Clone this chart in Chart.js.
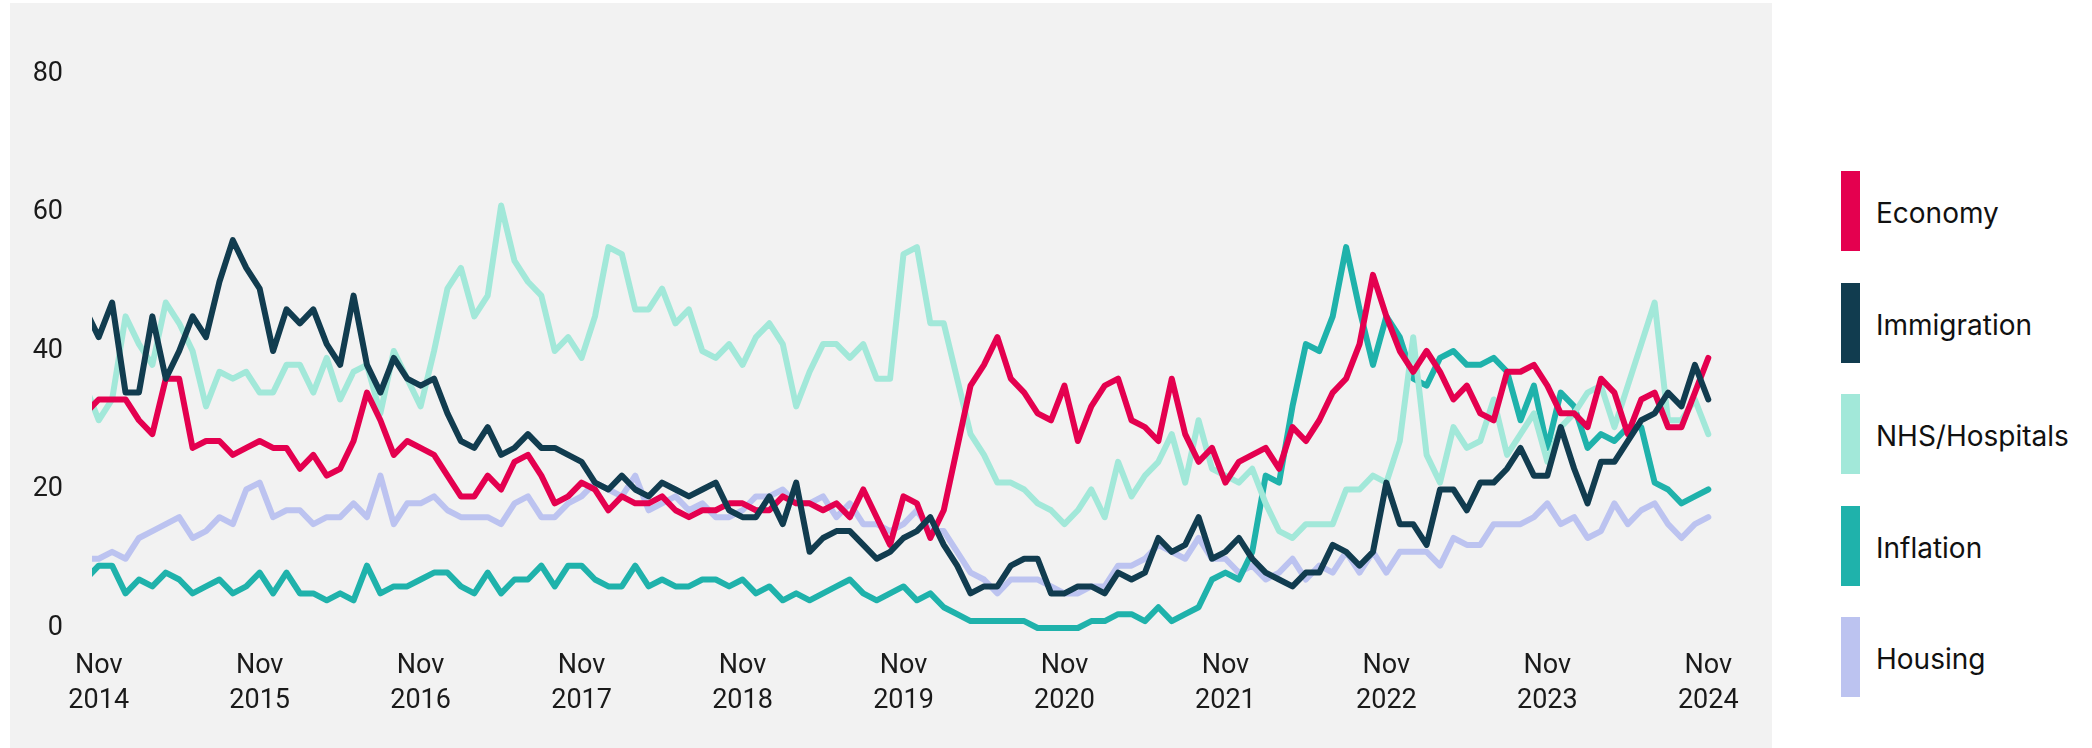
<!DOCTYPE html>
<html>
<head>
<meta charset="utf-8">
<title>Most important issues</title>
<script src="https://cdn.jsdelivr.net/npm/chart.js@4.4.1/dist/chart.umd.min.js"></script>
<style>
    html, body { margin: 0; padding: 0; background: #ffffff; }
    body { width: 2092px; height: 748px; position: relative; overflow: hidden; }
    #plot { position: absolute; left: 10px; top: 3px; width: 1762px; height: 745px; background: #f2f2f2; }
    #legend { position: absolute; left: 1841px; top: 171px; }
    .legend-item { display: flex; align-items: center; height: 80px; margin-bottom: 31.5px; }
    .legend-swatch { width: 19px; height: 80px; margin-right: 16px; }
    .legend-label { font-family: Inter, "Open Sans", sans-serif; font-size: 28px; color: #111111; position: relative; top: 2px; }
</style>
</head>
<body>
<div id="plot"><canvas id="issuesChart"></canvas></div>
<div id="legend"></div>
<script>
// --- Datos (mensual, Oct 2014 - Nov 2024) ---
const seriesNames = ['Economy', 'Immigration', 'NHS/Hospitals', 'Inflation', 'Housing'];
const seriesColors = ['#e4004f', '#113c4f', '#a2e8d9', '#1fb2ab', '#bcc3f0'];
const drawOrder = [1, 0, 2, 3, 4]; // Immigration on top

const economy = [31,
    33, 33, 33, 30, 28, 36, 36, 26, 27, 27, 25, 26,
    27, 26, 26, 23, 25, 22, 23, 27, 34, 30, 25, 27,
    26, 25, 22, 19, 19, 22, 20, 24, 25, 22, 18, 19,
    21, 20, 17, 19, 18, 18, 19, 17, 16, 17, 17, 18,
    18, 17, 17, 19, 18, 18, 17, 18, 16, 20, 16, 12,
    19, 18, 13, 17, 26, 35, 38, 42, 36, 34, 31, 30,
    35, 27, 32, 35, 36, 30, 29, 27, 36, 28, 24, 26,
    21, 24, 25, 26, 23, 29, 27, 30, 34, 36, 41, 51,
    45, 40, 37, 40, 37, 33, 35, 31, 30, 37, 37, 38,
    35, 31, 31, 29, 36, 34, 28, 33, 34, 29, 29, 34,
    39];
const immigration = [46,
    42, 47, 34, 34, 45, 36, 40, 45, 42, 50, 56, 52,
    49, 40, 46, 44, 46, 41, 38, 48, 38, 34, 39, 36,
    35, 36, 31, 27, 26, 29, 25, 26, 28, 26, 26, 25,
    24, 21, 20, 22, 20, 19, 21, 20, 19, 20, 21, 17,
    16, 16, 19, 15, 21, 11, 13, 14, 14, 12, 10, 11,
    13, 14, 16, 12, 9, 5, 6, 6, 9, 10, 10, 5,
    5, 6, 6, 5, 8, 7, 8, 13, 11, 12, 16, 10,
    11, 13, 10, 8, 7, 6, 8, 8, 12, 11, 9, 11,
    21, 15, 15, 12, 20, 20, 17, 21, 21, 23, 26, 22,
    22, 29, 23, 18, 24, 24, 27, 30, 31, 34, 32, 38,
    33];
const nhs = [35,
    30, 33, 45, 41, 38, 47, 44, 40, 32, 37, 36, 37,
    34, 34, 38, 38, 34, 39, 33, 37, 38, 31, 40, 36,
    32, 40, 49, 52, 45, 48, 61, 53, 50, 48, 40, 42,
    39, 45, 55, 54, 46, 46, 49, 44, 46, 40, 39, 41,
    38, 42, 44, 41, 32, 37, 41, 41, 39, 41, 36, 36,
    54, 55, 44, 44, 36, 28, 25, 21, 21, 20, 18, 17,
    15, 17, 20, 16, 24, 19, 22, 24, 28, 21, 30, 23,
    22, 21, 23, 18, 14, 13, 15, 15, 15, 20, 20, 22,
    21, 27, 42, 25, 21, 29, 26, 27, 33, 25, 28, 31,
    24, 29, 31, 34, 35, 29, 35, 41, 47, 30, 30, 33,
    28];
const inflation = [7,
    9, 9, 5, 7, 6, 8, 7, 5, 6, 7, 5, 6,
    8, 5, 8, 5, 5, 4, 5, 4, 9, 5, 6, 6,
    7, 8, 8, 6, 5, 8, 5, 7, 7, 9, 6, 9,
    9, 7, 6, 6, 9, 6, 7, 6, 6, 7, 7, 6,
    7, 5, 6, 4, 5, 4, 5, 6, 7, 5, 4, 5,
    6, 4, 5, 3, 2, 1, 1, 1, 1, 1, 0, 0,
    0, 0, 1, 1, 2, 2, 1, 3, 1, 2, 3, 7,
    8, 7, 11, 22, 21, 32, 41, 40, 45, 55, 46, 38,
    45, 42, 36, 35, 39, 40, 38, 38, 39, 37, 30, 35,
    26, 34, 32, 26, 28, 27, 29, 29, 21, 20, 18, 19,
    20];
const housing = [10,
    10, 11, 10, 13, 14, 15, 16, 13, 14, 16, 15, 20,
    21, 16, 17, 17, 15, 16, 16, 18, 16, 22, 15, 18,
    18, 19, 17, 16, 16, 16, 15, 18, 19, 16, 16, 18,
    19, 21, 20, 19, 22, 17, 18, 19, 17, 18, 16, 16,
    17, 19, 19, 20, 18, 18, 19, 16, 18, 15, 15, 14,
    15, 17, 14, 14, 11, 8, 7, 5, 7, 7, 7, 6,
    5, 5, 6, 6, 9, 9, 10, 12, 11, 10, 13, 10,
    10, 8, 9, 7, 8, 10, 7, 9, 8, 11, 8, 11,
    8, 11, 11, 11, 9, 13, 12, 12, 15, 15, 15, 16,
    18, 15, 16, 13, 14, 18, 15, 17, 18, 15, 13, 15,
    16];
const seriesValues = [economy, immigration, nhs, inflation, housing];

// --- Etiquetas del eje ---
const monthNames = ['Jan', 'Feb', 'Mar', 'Apr', 'May', 'Jun', 'Jul', 'Aug', 'Sep', 'Oct', 'Nov', 'Dec'];
const months = economy.map((_, k) => {
    const m = (9 + k) % 12;
    const y = 2014 + Math.floor((9 + k) / 12);
    return monthNames[m] + ' ' + y;
});
const tickMonth = 'Nov';
const yTicks = [0, 20, 40, 60, 80];

// --- Leyenda ---
const legendDiv = document.getElementById('legend');
seriesNames.forEach((name, i) => {
    const item = document.createElement('div');
    item.className = 'legend-item';
    item.innerHTML = `<div class="legend-swatch" style="background:${seriesColors[i]}"></div><span class="legend-label">${name}</span>`;
    legendDiv.appendChild(item);
});

// --- Gráfica ---
const tickFont = { family: 'Roboto, sans-serif', size: 27, lineHeight: 1.3 };
const textColor = '#1a1a1a';

new Chart(document.getElementById('issuesChart').getContext('2d'), {
    type: 'line',
    data: {
        datasets: seriesNames.map((name, i) => ({
            label: name,
            data: seriesValues[i].map((v, k) => ({ x: k, y: v })),
            borderColor: seriesColors[i],
            backgroundColor: seriesColors[i],
            order: drawOrder[i],
            clip: { left: 0, right: 10, top: 10, bottom: 10 }
        }))
    },
    options: {
        responsive: true,
        maintainAspectRatio: false,
        animation: false,
        layout: { padding: { top: 71, right: 57, left: 0, bottom: 0 } },
        plugins: { legend: { display: false }, tooltip: { enabled: false } },
        elements: {
            point: { radius: 0, hoverRadius: 0 },
            line: { borderWidth: 6, tension: 0, borderJoinStyle: 'round', borderCapStyle: 'round' }
        },
        scales: {
            x: {
                type: 'linear',
                min: 0.5,
                max: months.length - 0.5,
                grid: { display: false, drawTicks: false },
                border: { display: false },
                afterBuildTicks: (scale) => {
                    scale.ticks = months
                        .map((m, k) => ({ m, k }))
                        .filter(o => o.m.startsWith(tickMonth))
                        .map(o => ({ value: o.k }));
                },
                afterFit: (scale) => { scale.height = 120; },
                ticks: {
                    autoSkip: false,
                    maxRotation: 0,
                    padding: 21,
                    font: tickFont,
                    color: textColor,
                    callback: (v) => months[v].split(' ')
                }
            },
            y: {
                min: 0,
                max: 80,
                grid: { display: false, drawTicks: false },
                border: { display: false },
                afterBuildTicks: (scale) => { scale.ticks = yTicks.map(v => ({ value: v })); },
                afterFit: (scale) => { scale.width = 82; },
                ticks: { padding: 29, font: tickFont, color: textColor }
            }
        }
    }
});
</script>
</body>
</html>
